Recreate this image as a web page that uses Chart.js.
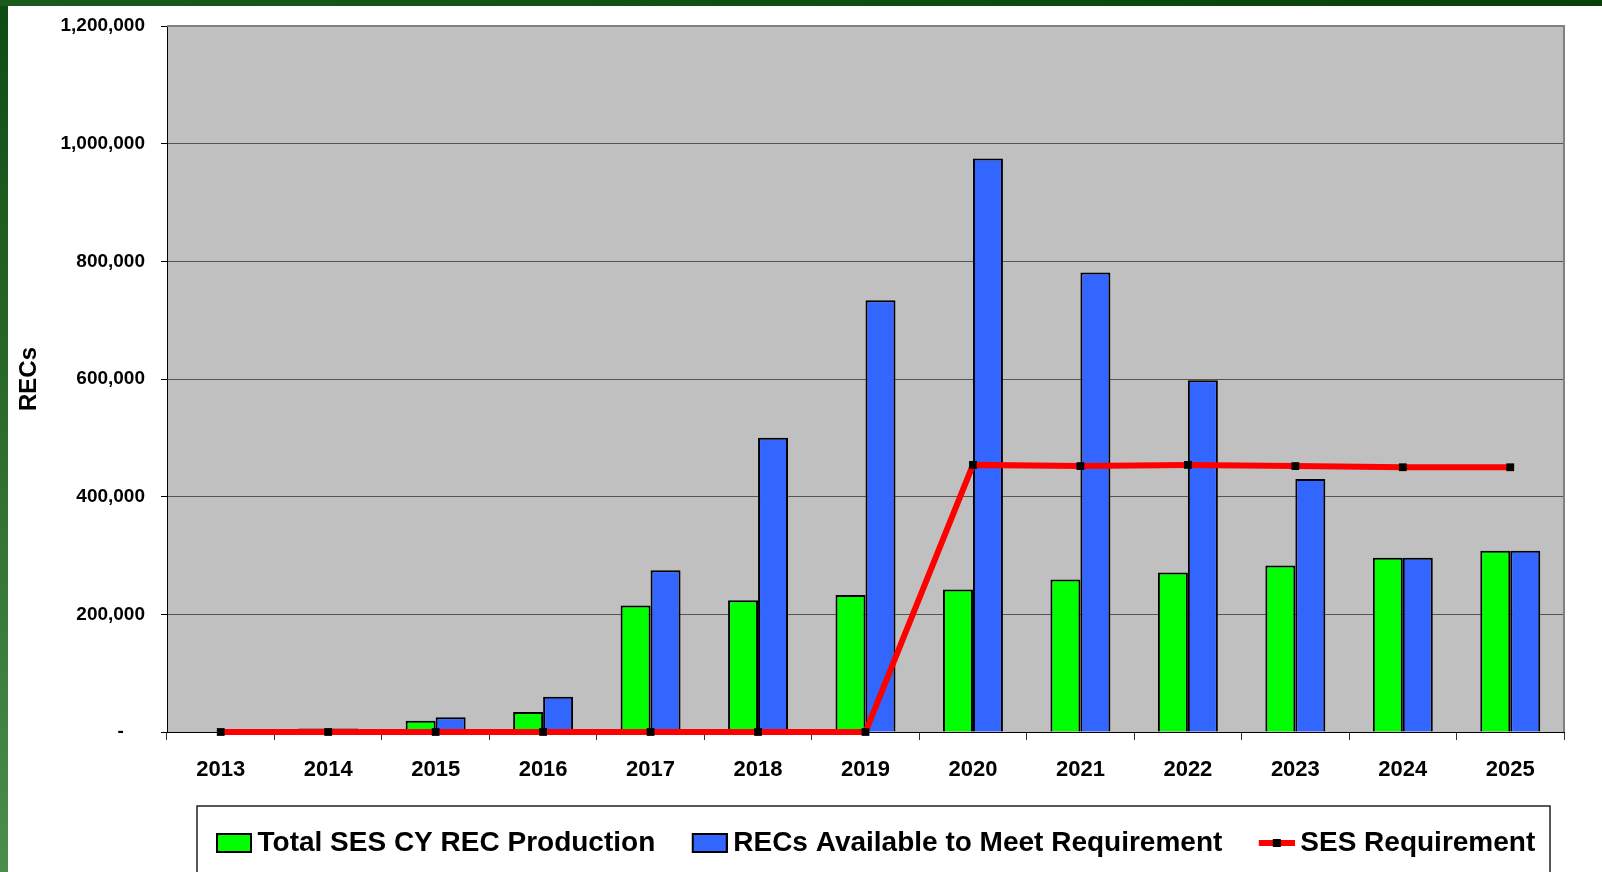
<!DOCTYPE html>
<html>
<head>
<meta charset="utf-8">
<script src="https://cdn.jsdelivr.net/npm/chart.js@4"></script>
<style>
    html, body { margin: 0; padding: 0; overflow: hidden; }
    body {
        width: 1602px;
        height: 872px;
        background: linear-gradient(to bottom, #0e4b11, #4c8d4c);
        position: relative;
    }
    .top-band {
        position: absolute; left: 0; top: 0; width: 1602px; height: 6px;
        background: linear-gradient(to right, #195b1c, #064108);
    }
    .sheet {
        position: absolute; left: 8px; top: 6px; width: 1594px; height: 866px;
        background: #fff;
    }
</style>
</head>
<body>
<div class="top-band"></div>
<div class="sheet"><canvas id="rec-chart" width="1594" height="866"></canvas></div>
<script>
const years = ['2013', '2014', '2015', '2016', '2017', '2018', '2019', '2020', '2021', '2022', '2023', '2024', '2025'];
const production = [0, 6000, 19000, 34000, 215000, 224000, 233000, 242000, 259000, 271000, 283000, 296000, 308000];
const available = [0, 6000, 25000, 60000, 275000, 500000, 734000, 975000, 781000, 598000, 430000, 296000, 308000];
const requirement = [0, 0, 0, 0, 0, 0, 0, 454000, 452000, 454000, 452000, 450000, 450000];
const yTicks = [0, 200000, 400000, 600000, 800000, 1000000, 1200000];

const FONT = "Arial, 'Liberation Sans', sans-serif";
const PLOT_BOTTOM = 726;
const FRAME = { left: 189, top: 800, right: 1542 };

// legend icons: transparent margin on the left so the swatch sits right next to the text
function barIcon(color) {
    const c = document.createElement('canvas');
    c.width = 45;
    c.height = 20;
    const g = c.getContext('2d');
    g.fillStyle = color;
    g.fillRect(10, 1, 34, 18);
    g.strokeStyle = '#000';
    g.lineWidth = 2;
    g.strokeRect(10, 1, 34, 18);
    return c;
}

function lineIcon() {
    const c = document.createElement('canvas');
    c.width = 45;
    c.height = 20;
    const g = c.getContext('2d');
    g.fillStyle = '#ff0000';
    g.fillRect(9, 7, 36, 6);
    g.fillStyle = '#000';
    g.fillRect(23, 6, 8, 8);
    return c;
}

const icons = [barIcon('#00ff00'), barIcon('#3366ff'), lineIcon()];

const chartDecor = {
    id: 'chartDecor',
    beforeDraw(chart) {
        const { ctx, chartArea: a } = chart;
        ctx.save();
        ctx.fillStyle = '#c0c0c0';
        ctx.fillRect(a.left, a.top, a.right - a.left, a.bottom - a.top);
        ctx.fillStyle = '#fff';
        ctx.fillRect(FRAME.left, FRAME.top, FRAME.right - FRAME.left, 100);
        ctx.strokeStyle = '#222';
        ctx.lineWidth = 1.5;
        ctx.strokeRect(FRAME.left, FRAME.top, FRAME.right - FRAME.left, 100);
        ctx.restore();
    },
    afterDraw(chart) {
        const { ctx, chartArea: a } = chart;
        ctx.save();
        ctx.strokeStyle = '#808080';
        ctx.lineWidth = 2;
        ctx.beginPath();
        ctx.moveTo(a.left, a.top);
        ctx.lineTo(a.right, a.top);
        ctx.lineTo(a.right, a.bottom);
        ctx.stroke();
        ctx.restore();
    },
    afterLayout(chart) {
        const lg = chart.legend;
        lg.left = 171.5;
        lg.right = 1594;
        lg.top = 787;
        lg.bottom = lg.top + lg.height;
    },
};

new Chart(document.getElementById('rec-chart'), {
    type: 'bar',
    data: {
        labels: years,
        datasets: [{
            label: 'Total SES CY REC Production',
            data: production,
            backgroundColor: '#00ff00',
            borderColor: '#000',
            borderWidth: 2,
            order: 1,
        }, {
            label: 'RECs Available to Meet Requirement',
            data: available,
            backgroundColor: '#3366ff',
            borderColor: '#000',
            borderWidth: 2,
            order: 1,
        }, {
            type: 'line',
            label: 'SES Requirement',
            data: requirement,
            borderColor: '#ff0000',
            borderWidth: 6,
            tension: 0,
            pointStyle: 'rect',
            pointRadius: 5.5,
            pointBackgroundColor: '#000',
            pointBorderWidth: 0,
            clip: false,
            order: 0,
        }],
    },
    options: {
        responsive: false,
        animation: false,
        layout: {
            padding: { left: 0, top: 20, right: 38, bottom: 0 },
        },
        datasets: {
            bar: {
                categoryPercentage: 0.558,
                barPercentage: 1,
            },
        },
        plugins: {
            tooltip: { enabled: false },
            legend: {
                position: 'bottom',
                align: 'start',
                labels: {
                    usePointStyle: true,
                    pointStyleWidth: 28,
                    boxHeight: 20,
                    padding: 36,
                    color: '#000',
                    font: { family: FONT, size: 28, weight: 'bold' },
                    generateLabels: (chart) => chart.data.datasets.map((ds, i) => ({
                        text: ds.label,
                        pointStyle: icons[i],
                        fillStyle: 'transparent',
                        strokeStyle: 'transparent',
                        lineWidth: 0,
                        datasetIndex: i,
                        hidden: false,
                    })),
                },
            },
        },
        scales: {
            x: {
                offset: true,
                grid: {
                    offset: true,
                    drawOnChartArea: false,
                    tickLength: 8,
                    tickColor: '#333',
                },
                border: { color: '#000', width: 1 },
                ticks: {
                    color: '#000',
                    padding: 17,
                    font: { family: FONT, size: 22, weight: 'bold' },
                },
                afterFit: (scale) => {
                    const lgH = scale.chart.legend ? scale.chart.legend.height : 74;
                    scale.height = 866 - PLOT_BOTTOM - lgH;
                },
            },
            y: {
                min: 0,
                max: 1200000,
                afterBuildTicks: (scale) => {
                    scale.ticks = yTicks.map((v) => ({ value: v }));
                },
                grid: {
                    color: '#555',
                    lineWidth: 1,
                    tickLength: 6,
                    tickColor: '#000',
                },
                border: { color: '#000', width: 1 },
                ticks: {
                    color: '#000',
                    padding: 16,
                    font: { family: FONT, size: 19, weight: 'bold' },
                    callback: (v) => (v === 0 ? '-    ' : v.toLocaleString('en-US')),
                },
                title: {
                    display: true,
                    text: 'RECs',
                    color: '#000',
                    padding: { top: 7, bottom: 0 },
                    font: { family: FONT, size: 24, weight: 'bold' },
                },
                afterFit: (scale) => {
                    scale.width = 159;
                    scale.paddingTop = 0;
                    scale.paddingBottom = 0;
                },
            },
        },
    },
    plugins: [chartDecor],
});
</script>
</body>
</html>
